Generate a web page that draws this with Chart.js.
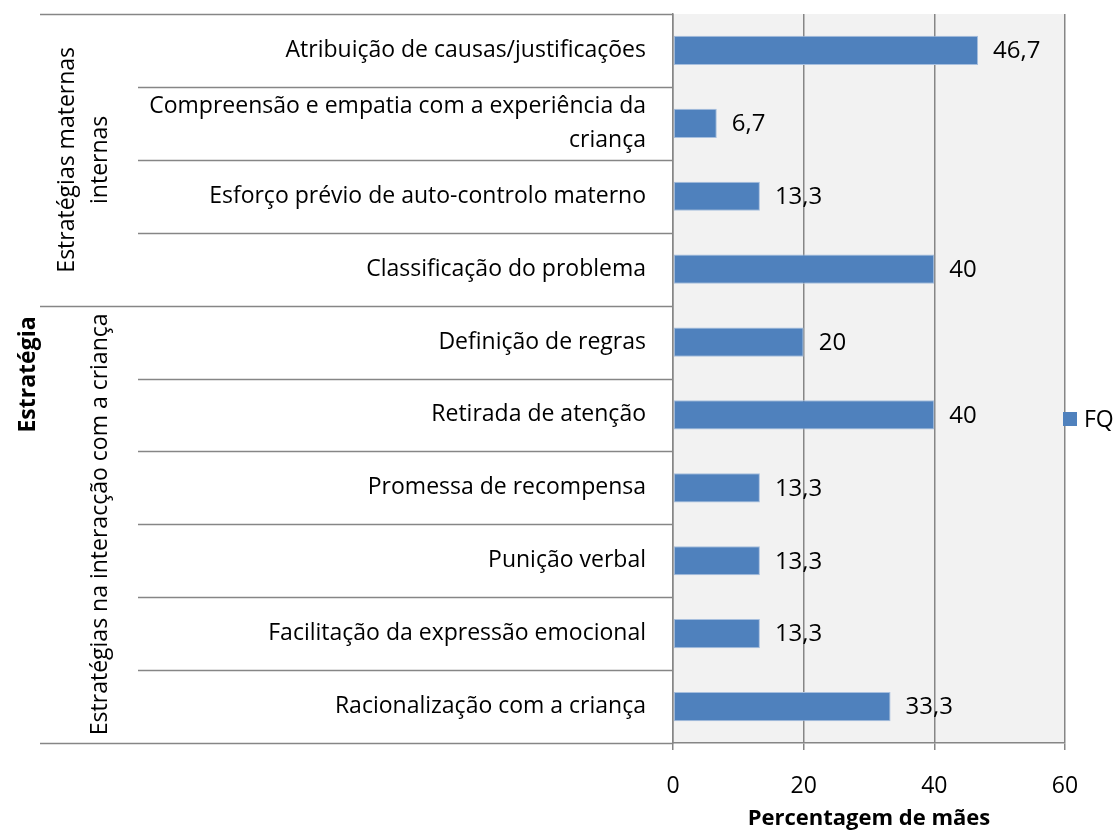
<!DOCTYPE html>
<html>
<head>
<meta charset="utf-8">
<script src="https://cdn.jsdelivr.net/npm/chart.js@4.4.1/dist/chart.umd.min.js"></script>
<style>
  html, body { margin: 0; padding: 0; background: #fff; }
  #wrap { width: 1118px; height: 832px; }
</style>
</head>
<body>
<div id="wrap"><canvas id="chart" width="1118" height="832"></canvas></div>
<script>
// data
const categories = [
    'Atribuição de causas/justificações',
    ['Compreensão e empatia com a experiência da', 'criança'],
    'Esforço prévio de auto-controlo materno',
    'Classificação do problema',
    'Definição de regras',
    'Retirada de atenção',
    'Promessa de recompensa',
    'Punição verbal',
    'Facilitação da expressão emocional',
    'Racionalização com a criança'
];
const fqValues = [46.7, 6.7, 13.3, 40, 20, 40, 13.3, 13.3, 13.3, 33.3];
const xTicks = [0, 20, 40, 60];
const groupNames = [['Estratégias maternas', 'internas'], ['Estratégias na interacção com a criança']];
const groupRanges = [[0, 3], [4, 9]];
const seriesName = 'FQ';

const FONT = '"Open Sans", "Noto Sans", sans-serif';
const LINE = '#868686';
const BAR = '#4f81bd';

// fundo cinzento, separadores, grupos, rótulos
const decorPlugin = {
    id: 'decor',
    beforeDraw(chart) {
        const { ctx, chartArea: a } = chart;
        ctx.save();
        ctx.fillStyle = '#f2f2f2';
        ctx.fillRect(a.left, a.top, a.right - a.left, a.bottom - a.top);
        ctx.restore();
    },
    afterDraw(chart) {
        const { ctx, chartArea: a } = chart;
        const y = chart.scales.y;
        const row = (a.bottom - a.top) / categories.length;
        ctx.save();
        ctx.strokeStyle = LINE;
        ctx.lineWidth = 1.5;
        // separadores entre categorias
        for (let i = 0; i <= categories.length; i++) {
            const py = Math.round(y.getPixelForValue(i) - row / 2) + 0.5;
            const isGroupEdge = i === 0 || i === categories.length ||
                groupRanges.some(r => r[0] === i);
            ctx.beginPath();
            ctx.moveTo(isGroupEdge ? 40 : 138, py);
            ctx.lineTo(a.left, py);
            ctx.stroke();
        }
        // nomes dos grupos (rodados)
        ctx.fillStyle = '#000';
        ctx.font = '23px ' + FONT;
        ctx.textAlign = 'center';
        ctx.textBaseline = 'middle';
        groupRanges.forEach((r, gi) => {
            const top = y.getPixelForValue(r[0]) - row / 2;
            const bot = y.getPixelForValue(r[1]) + row / 2;
            const cy = (top + bot) / 2;
            const lines = groupNames[gi];
            lines.forEach((txt, li) => {
                const cx = 100 - (lines.length - 1 - li) * 33;
                ctx.save();
                ctx.translate(cx, cy);
                ctx.rotate(-Math.PI / 2);
                ctx.fillText(txt, 0, 0);
                ctx.restore();
            });
        });
        // título do eixo vertical
        ctx.font = 'bold 23px ' + FONT;
        ctx.save();
        ctx.translate(28, (a.top + a.bottom) / 2 - 4);
        ctx.rotate(-Math.PI / 2);
        ctx.fillText('Estratégia', 0, 0);
        ctx.restore();
        // valores das barras
        ctx.font = '24px ' + FONT;
        ctx.textAlign = 'left';
        const meta = chart.getDatasetMeta(0);
        meta.data.forEach((bar, i) => {
            const label = String(fqValues[i]).replace('.', ',');
            ctx.fillText(label, bar.x + 15, bar.y + 1);
        });
        // legenda
        const ly = chart.height / 2 + 3;
        ctx.fillStyle = BAR;
        ctx.fillRect(1063, ly - 7, 14, 14);
        ctx.fillStyle = '#000';
        ctx.font = '23px ' + FONT;
        ctx.fillText(seriesName, 1084, ly + 1);
        ctx.restore();
    }
};

new Chart(document.getElementById('chart'), {
    type: 'bar',
    data: {
        labels: categories,
        datasets: [{
            label: seriesName,
            data: fqValues,
            backgroundColor: BAR,
            borderColor: '#a7bfde',
            borderWidth: 1,
            borderSkipped: false,
            barPercentage: 0.4,
            categoryPercentage: 1
        }]
    },
    options: {
        indexAxis: 'y',
        responsive: false,
        animation: false,
        layout: { padding: { top: 14, right: 53, left: 0, bottom: 0 } },
        plugins: {
            legend: { display: false },
            tooltip: { enabled: false }
        },
        scales: {
            x: {
                min: 0,
                max: 60,
                afterBuildTicks: s => { s.ticks = xTicks.map(v => ({ value: v })); },
                afterFit: s => { s.height = 89; },
                grid: { color: LINE, lineWidth: 1.5, tickLength: 7, drawTicks: true },
                border: { color: LINE, width: 1.5 },
                ticks: {
                    color: '#000',
                    font: { family: FONT, size: 23 },
                    padding: 23
                },
                title: {
                    display: true,
                    text: 'Percentagem de mães',
                    color: '#000',
                    font: { family: FONT, size: 22, weight: 'bold' },
                    padding: { top: 0, bottom: 0 }
                }
            },
            y: {
                afterFit: s => {
                    s.width = 673;
                    s.paddingTop = 0;
                    s.paddingBottom = 0;
                },
                grid: { display: false, drawTicks: false },
                border: { display: true, color: LINE, width: 1.5 },
                ticks: {
                    color: '#000',
                    font: { family: FONT, size: 23, lineHeight: 1.48 },
                    padding: 27,
                    autoSkip: false
                }
            }
        }
    },
    plugins: [decorPlugin]
});
</script>
</body>
</html>
